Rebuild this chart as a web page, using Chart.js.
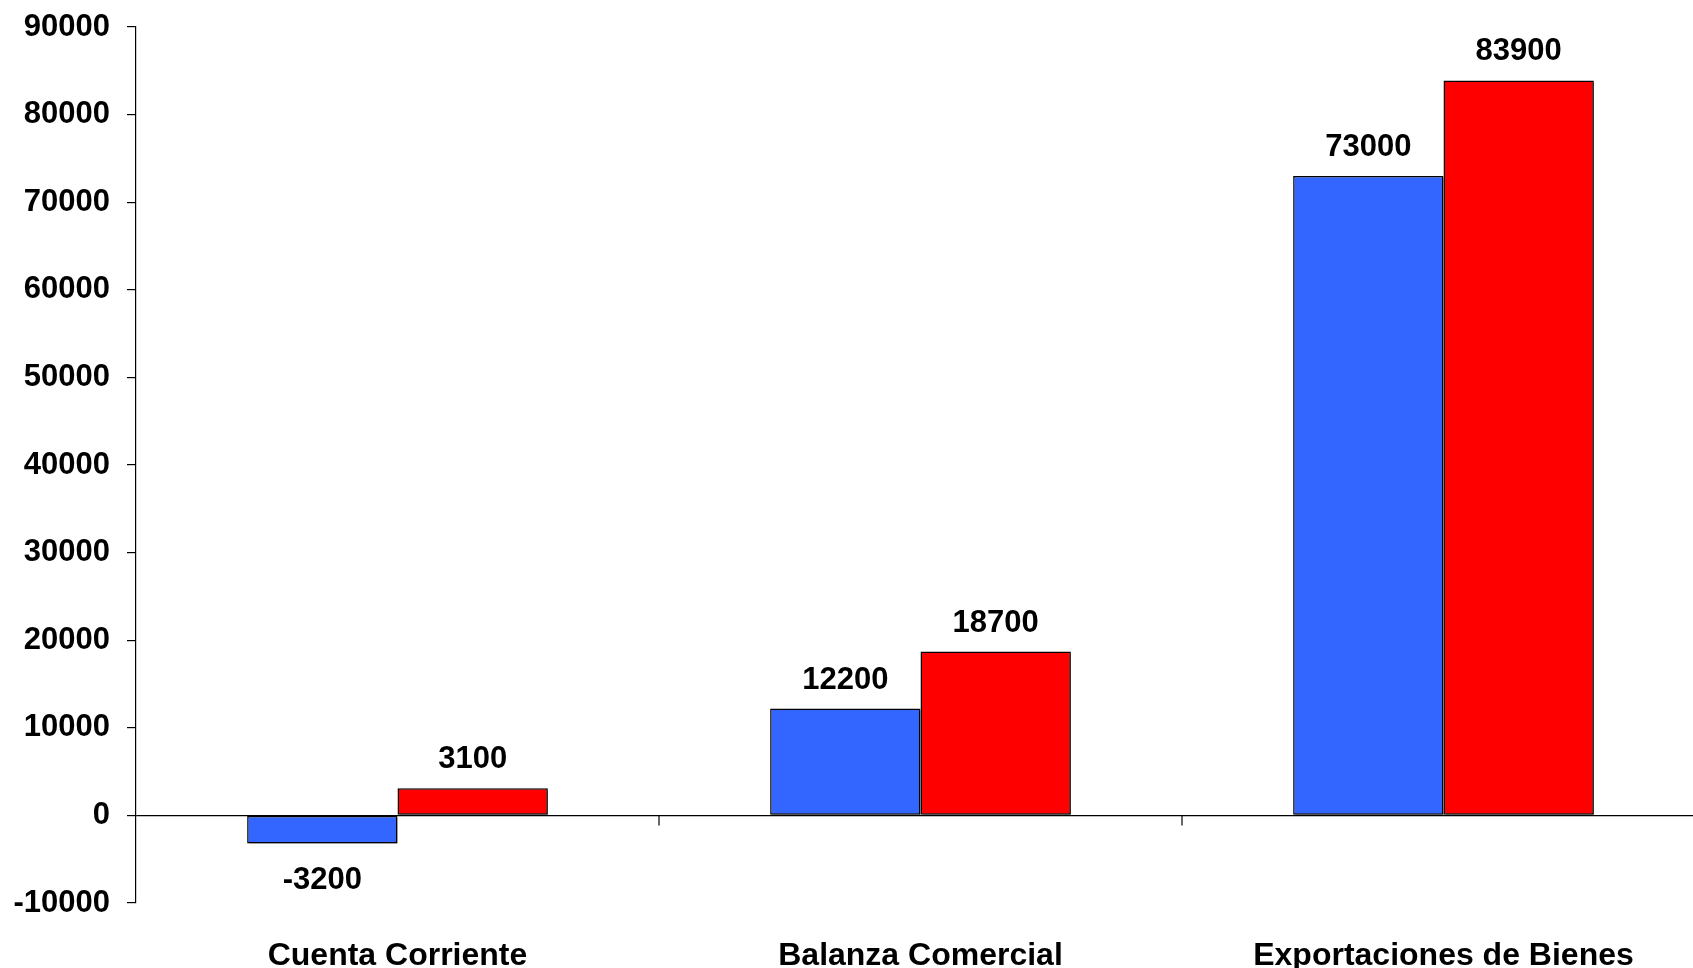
<!DOCTYPE html>
<html>
<head>
<meta charset="utf-8">
<title>Cuenta Corriente, Balanza Comercial, Exportaciones</title>
<script src="https://cdn.jsdelivr.net/npm/chart.js@4/dist/chart.umd.min.js"></script>
<style>
    html, body { margin: 0; padding: 0; background: #fff; overflow: hidden; }
    #wrap { width: 1705px; height: 968px; }
</style>
</head>
<body>
<div id="wrap"><canvas id="barChart" width="1705" height="968"></canvas></div>
<script>
const categories = ["Cuenta Corriente", "Balanza Comercial", "Exportaciones de Bienes"];
const serieAzul = [-3200, 12200, 73000];
const serieRoja = [3100, 18700, 83900];
const yMin = -10000;
const yMax = 90000;
const yStep = 10000;

const FONT = "'Liberation Sans', Arial, sans-serif";

// thin grey shadow behind the bars
const barShadow = {
    id: "barShadow",
    beforeDatasetsDraw(chart) {
        const ctx = chart.ctx;
        ctx.save();
        ctx.shadowColor = "rgba(0,0,0,0.35)";
        ctx.shadowOffsetX = 2;
        ctx.shadowOffsetY = 2;
        ctx.shadowBlur = 0;
    },
    afterDatasetsDraw(chart) {
        chart.ctx.restore();
    }
};

// value labels above / below each bar
const valueLabels = {
    id: "valueLabels",
    afterDatasetsDraw(chart) {
        const ctx = chart.ctx;
        ctx.save();
        ctx.font = "bold 31px " + FONT;
        ctx.fillStyle = "#000";
        ctx.textAlign = "center";
        ctx.textBaseline = "alphabetic";
        chart.data.datasets.forEach((ds, i) => {
            const meta = chart.getDatasetMeta(i);
            meta.data.forEach((bar, j) => {
                const v = ds.data[j];
                const y = v >= 0 ? bar.y - 20 : bar.y + 46;
                ctx.fillText(String(v), bar.x, y);
            });
        });
        ctx.restore();
    }
};

// small tick marks under the zero line between categories
const categoryTicks = {
    id: "categoryTicks",
    afterDraw(chart) {
        const x = chart.scales.x;
        const y0 = chart.scales.y.getPixelForValue(0);
        const ctx = chart.ctx;
        ctx.save();
        ctx.strokeStyle = "#000";
        ctx.lineWidth = 1.2;
        for (let i = 1; i <= categories.length; i++) {
            const px = x.getPixelForValue(i - 0.5);
            ctx.beginPath();
            ctx.moveTo(px, y0);
            ctx.lineTo(px, y0 + 10);
            ctx.stroke();
        }
        ctx.restore();
    }
};

new Chart(document.getElementById("barChart"), {
    type: "bar",
    data: {
        labels: categories,
        datasets: [
            {
                data: serieAzul,
                backgroundColor: "#3366FF",
                borderColor: "#000",
                borderWidth: 1.5,
                borderSkipped: false
            },
            {
                data: serieRoja,
                backgroundColor: "#FF0000",
                borderColor: "#000",
                borderWidth: 1.5,
                borderSkipped: false
            }
        ]
    },
    options: {
        responsive: false,
        animation: false,
        devicePixelRatio: 1,
        categoryPercentage: 0.575,
        barPercentage: 1.0,
        layout: { padding: { top: 27, left: 0, right: 0, bottom: 0 } },
        plugins: {
            legend: { display: false },
            tooltip: { enabled: false }
        },
        scales: {
            x: {
                grid: { display: false, drawTicks: false },
                border: { display: false },
                ticks: {
                    color: "#000",
                    padding: 34,
                    maxRotation: 0,
                    font: { family: FONT, size: 32, weight: "bold" }
                },
                afterFit(scale) { scale.height = 65; }
            },
            y: {
                min: yMin,
                max: yMax,
                grid: {
                    color: c => (c.tick && c.tick.value === 0 ? "#000" : "rgba(0,0,0,0)"),
                    tickColor: "#000",
                    tickLength: 9,
                    lineWidth: 1.2
                },
                border: { display: true, color: "#000", width: 1.2 },
                ticks: {
                    stepSize: yStep,
                    color: "#000",
                    padding: 17,
                    callback: v => String(v),
                    font: { family: FONT, size: 31, weight: "bold" }
                },
                afterFit(scale) {
                    scale.width = 136;
                    scale.paddingTop = 0;
                    scale.paddingBottom = 0;
                }
            }
        }
    },
    plugins: [barShadow, valueLabels, categoryTicks]
});
</script>
</body>
</html>
